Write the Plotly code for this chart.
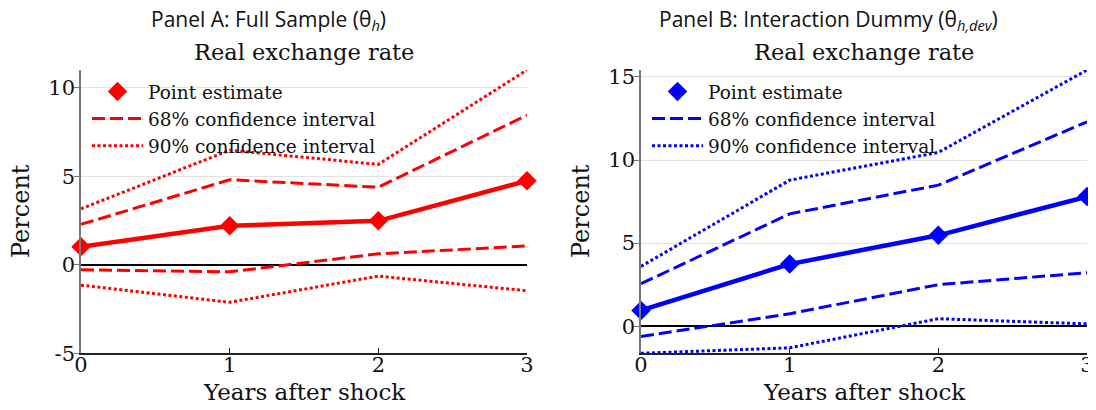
import plotly.graph_objects as go

years = [0, 1, 2, 3]

# Panel A: full sample
a_point = [1.02, 2.20, 2.48, 4.74]
a_68_up = [2.28, 4.80, 4.38, 8.45]
a_68_lo = [-0.28, -0.40, 0.62, 1.06]
a_90_up = [3.16, 6.47, 5.67, 11.0]
a_90_lo = [-1.15, -2.12, -0.64, -1.47]

# Panel B: interaction dummy
b_point = [0.95, 3.74, 5.47, 7.80]
b_68_up = [2.56, 6.76, 8.49, 12.30]
b_68_lo = [-0.62, 0.75, 2.50, 3.22]
b_90_up = [3.60, 8.79, 10.46, 15.42]
b_90_lo = [-1.63, -1.30, 0.45, 0.14]

a_ticks = [-5, 0, 5, 10]
a_ticktext = ["-5", "0", "5", "10"]
b_ticks = [0, 5, 10, 15]
b_ticktext = ["0", "5", "10", "15"]
x_ticktext = ["0", "1", "2", "3"]

panel_titles = ["Panel A: Full Sample (θ<sub><i>h</i></sub>)",
                "Panel B: Interaction Dummy (θ<sub><i>h,dev</i></sub>)"]
chart_title = "Real exchange rate"
y_title = "Percent"
x_title = "Years after shock"
names = ["Point estimate", "68% confidence interval", "90% confidence interval"]

SERIF = "DejaVu Serif"
SANS = "Open Sans"
DASH = "13px,5px"
DOT = "3px,2.5px"

# page body has an 8px margin; positions below are in screen pixels
OFF = 8
W, H = 1096 - OFF, 410 - OFF
def fx(sx):
    return (sx - OFF) / W
def fy(sy):
    return 1 - (sy - OFF) / H

fig = go.Figure()

def add_panel(color, point, up68, lo68, up90, lo90, xa, ya, legend):
    sfx_x = "x" if xa == 1 else f"x{xa}"
    sfx_y = "y" if ya == 1 else f"y{ya}"
    common = dict(xaxis=sfx_x, yaxis=sfx_y, cliponaxis=False, legend=legend)
    fig.add_trace(go.Scatter(x=[None], y=[None], mode="markers", name=names[0],
                             marker=dict(symbol="diamond", size=15, color=color), **common))
    fig.add_trace(go.Scatter(x=years, y=up68, mode="lines", name=names[1],
                             line=dict(color=color, width=3, dash=DASH), **common))
    fig.add_trace(go.Scatter(x=years, y=up90, mode="lines", name=names[2],
                             line=dict(color=color, width=3, dash=DOT), **common))
    fig.add_trace(go.Scatter(x=years, y=lo68, mode="lines", showlegend=False,
                             line=dict(color=color, width=3, dash=DASH), **common))
    fig.add_trace(go.Scatter(x=years, y=lo90, mode="lines", showlegend=False,
                             line=dict(color=color, width=3, dash=DOT), **common))
    fig.add_trace(go.Scatter(x=years, y=point, mode="lines+markers", showlegend=False,
                             line=dict(color=color, width=4.5),
                             marker=dict(symbol="diamond", size=15, color=color), **common))

add_panel("#ff0000", a_point, a_68_up, a_68_lo, a_90_up, a_90_lo, 1, 1, "legend")
add_panel("#0000ff", b_point, b_68_up, b_68_lo, b_90_up, b_90_lo, 2, 2, "legend2")

A_L, A_R = 81, 527
B_L, B_R = 641, 1087
P_T, P_B = 70, 353.3
ax_dom = [fx(A_L), fx(A_R)]
bx_dom = [fx(B_L), fx(B_R)]
y_dom = [fy(P_B), fy(P_T)]

xcommon = dict(range=[0, 3], tickvals=years, ticktext=x_ticktext, showgrid=False,
               zeroline=False, showline=True, linecolor="#222", linewidth=1.5,
               ticks="inside", ticklen=6, tickcolor="#222", automargin=False,
               ticklabelstandoff=-8,
               tickfont=dict(family=SERIF, size=21, color="#111"))
ycommon = dict(showgrid=True, gridcolor="#e3e3e3", gridwidth=1,
               zeroline=True, zerolinecolor="#000", zerolinewidth=2,
               showline=True, linecolor="#777", linewidth=1.5,
               ticks="outside", ticklen=5, tickcolor="#777", automargin=False,
               ticklabelstandoff=-5,
               tickfont=dict(family=SERIF, size=21, color="#111"))

legcommon = dict(xanchor="left", yanchor="top", bgcolor="rgba(0,0,0,0)",
                 font=dict(family=SERIF, size=18.5, color="#111"),
                 tracegroupgap=0, itemwidth=51)

fig.update_layout(
    width=W, height=H, margin=dict(l=0, r=0, t=0, b=0, autoexpand=False),
    plot_bgcolor="white", paper_bgcolor="white",
    xaxis=dict(domain=ax_dom, anchor="y", **xcommon),
    yaxis=dict(domain=y_dom, anchor="x", range=[-5, 11], tickvals=a_ticks, ticktext=a_ticktext, **ycommon),
    xaxis2=dict(domain=bx_dom, anchor="y2", **xcommon),
    yaxis2=dict(domain=y_dom, anchor="x2", range=[-1.63, 15.42], tickvals=b_ticks, ticktext=b_ticktext, **ycommon),
    legend=dict(x=fx(A_L + 6), y=fy(73), **legcommon),
    legend2=dict(x=fx(B_L + 6), y=fy(73), **legcommon),
    showlegend=True,
)

for cx, pt in [(268, panel_titles[0]), (828, panel_titles[1])]:
    fig.add_annotation(text=pt, x=fx(cx), y=fy(20), xref="paper", yref="paper",
                       xanchor="center", yanchor="middle", showarrow=False,
                       font=dict(family=SANS, size=21, color="#111"))
for l, r in ((A_L, A_R), (B_L, B_R)):
    c = (l + r) / 2
    fig.add_annotation(text=chart_title, x=fx(c), y=fy(52),
                       xref="paper", yref="paper", xanchor="center", yanchor="middle",
                       showarrow=False, font=dict(family=SERIF, size=22.5, color="#111"))
    fig.add_annotation(text=x_title, x=fx(c), y=fy(392),
                       xref="paper", yref="paper", xanchor="center", yanchor="middle",
                       showarrow=False, font=dict(family=SERIF, size=23, color="#111"))
    fig.add_annotation(text=y_title, x=fx(l - 60), y=fy(211), textangle=-90,
                       xref="paper", yref="paper", xanchor="center", yanchor="middle",
                       showarrow=False, font=dict(family=SERIF, size=24, color="#111"))

fig.write_html("out.html")
